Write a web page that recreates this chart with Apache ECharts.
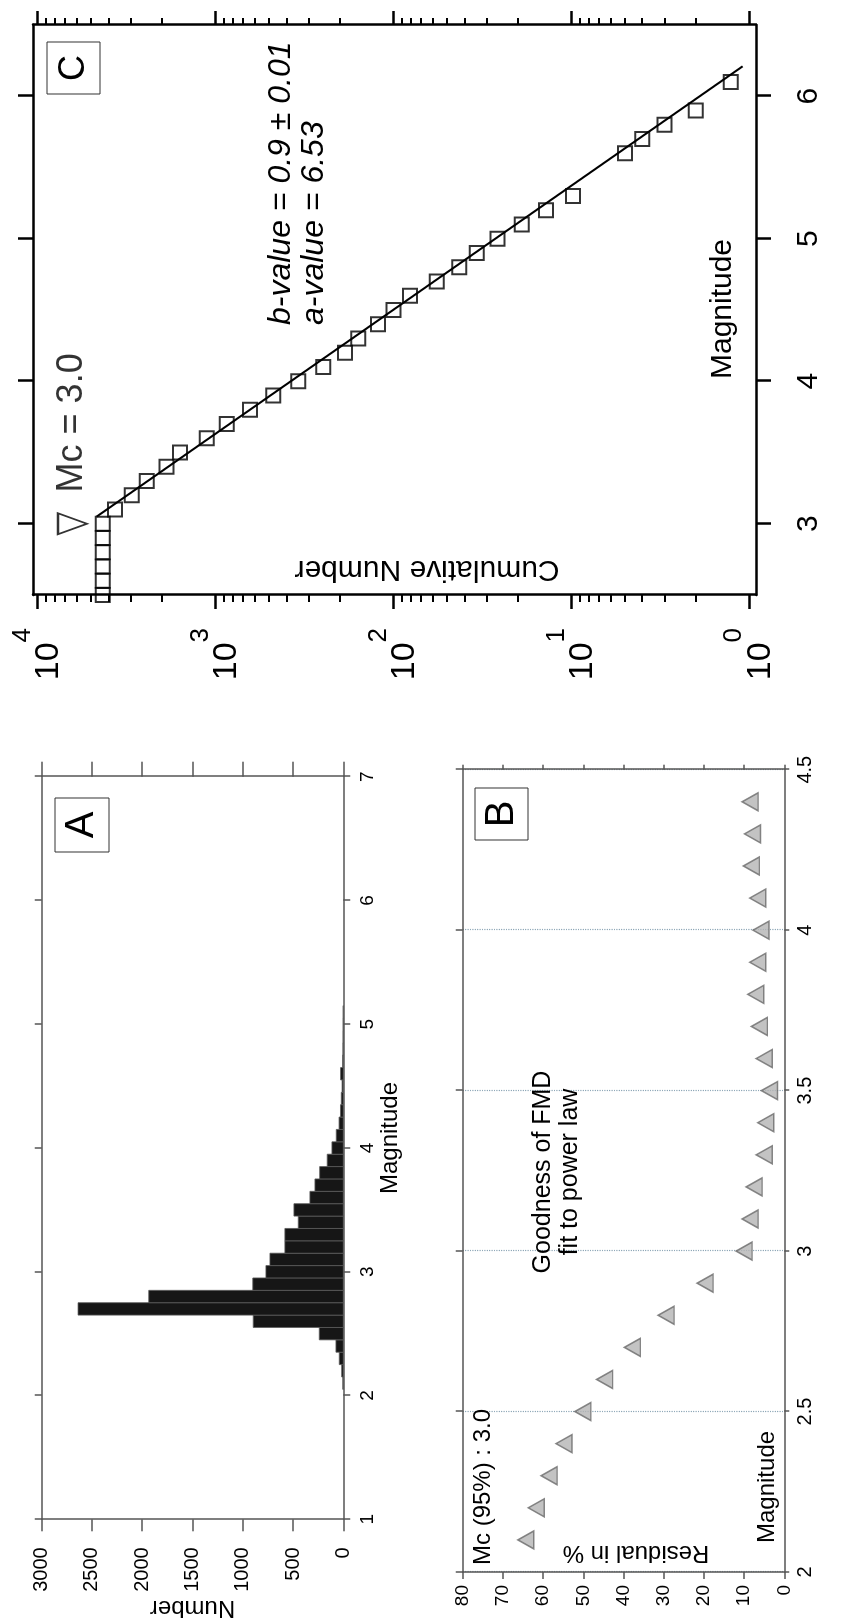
<!DOCTYPE html>
<html>
<head>
<meta charset="utf-8">
<script src="https://cdn.jsdelivr.net/npm/echarts@6/dist/echarts.min.js"></script>
<style>
html,body{margin:0;padding:0;background:#fff;overflow:hidden;width:842px;height:1622px;}
#chart{position:absolute;left:0;top:0;width:1622px;height:842px;transform-origin:0 0;transform:translateY(1622px) rotate(-90deg);background:#fff;}
</style>
</head>
<body>
<div id="chart"></div>
<script>
// ---------- Panel A: frequency-magnitude histogram ----------
const histMagnitude = [2.1,2.2,2.3,2.4,2.5,2.6,2.7,2.8,2.9,3.0,3.1,3.2,3.3,3.4,3.5,3.6,3.7,3.8,3.9,4.0,4.1,4.2,4.3,4.4,4.5,4.6,4.7,4.8,4.9,5.0,5.1];
const histCount     = [5,16,40,73,239,896,2638,1935,900,770,730,581,581,448,491,332,282,235,160,113,70,42,28,20,12,27,7,4,3,2,1];
const histBinWidth  = 0.1;

// ---------- Panel B: goodness of fit residuals ----------
const residMagnitude = [2.1,2.2,2.3,2.4,2.5,2.6,2.7,2.8,2.9,3.0,3.1,3.2,3.3,3.4,3.5,3.6,3.7,3.8,3.9,4.0,4.1,4.2,4.3,4.4];
const residPercent   = [64.3,61.7,58.5,54.8,50.1,44.7,37.8,29.4,19.7,10.0,8.5,7.5,5.0,4.6,3.7,5.0,6.2,7.1,6.6,5.8,6.6,8.2,7.9,8.5];

// ---------- Panel C: cumulative FMD ----------
const cumMagnitude = [2.5,2.6,2.7,2.8,2.9,3.0,3.1,3.2,3.3,3.4,3.5,3.6,3.7,3.8,3.9,4.0,4.1,4.2,4.3,4.4,4.5,4.6,4.7,4.8,4.9,5.0,5.1,5.2,5.3,5.6,5.7,5.8,5.9,6.1];
const cumNumber    = [4300,4300,4300,4300,4300,4300,3676,2962,2440,1884,1586,1122,866,641,474,343,248,187,158,122,100,80.8,57.2,42.7,34.0,26.0,19.0,13.9,9.8,5.0,4.0,3.0,2.0,1.27];
const fitMagnitude = [3.05, 6.21];
const fitNumber    = [4660, 1.09];
const mcMagnitude  = 3.0;
const mcMarkerNumber = 6370;
const cMagTicks  = [3,4,5,6];
const cLogMajor  = [1,10,100,1000,10000];
const cLogMinor  = [2,3,4,5,6,7,8,9,20,30,40,50,60,70,80,90,200,300,400,500,600,700,800,900,2000,3000,4000,5000,6000,7000,8000,9000];

const FONT = "'Liberation Sans', Arial, Helvetica, sans-serif";
const GRAY = '#555';
const BLACK = '#000';

function lineStyle(c, w){ return {color:c, width:w}; }
function plain(v){ return String(v); }

const chart = echarts.init(document.getElementById('chart'), null, {renderer:'canvas'});

const option = {
  animation:false,
  backgroundColor:'#fff',
  textStyle:{fontFamily:FONT},
  grid:[
    {left:102.7, right:776.7, top:41.7, bottom:498.7, outerBoundsMode:'none'},
    {left:50, right:769.7, top:462.7, bottom:57.7, outerBoundsMode:'none'},
    {left:1027, right:25, top:33, bottom:86, outerBoundsMode:'none'}
  ],
  xAxis:[
    // A bottom
    {type:'value', gridIndex:0, position:'bottom', min:1, max:7, interval:1,
     axisLine:{onZero:false, lineStyle:lineStyle(GRAY,1.5)},
     axisTick:{length:7, lineStyle:lineStyle(GRAY,1.5)},
     axisLabel:{fontSize:19, color:BLACK, margin:15, fontFamily:FONT, formatter:plain},
     splitLine:{show:false},
     name:'Magnitude', nameLocation:'middle', nameGap:34,
     nameTextStyle:{fontSize:24, color:BLACK, fontFamily:FONT, padding:[0,0,0,20]}},
    // A top mirror
    {type:'value', gridIndex:0, position:'top', min:1, max:7, interval:1,
     axisLine:{onZero:false, lineStyle:lineStyle(GRAY,1.5)},
     axisTick:{length:7, lineStyle:lineStyle(GRAY,1.5)},
     axisLabel:{show:false}, splitLine:{show:false}},
    // B bottom
    {type:'value', gridIndex:1, position:'bottom', min:2, max:4.5, interval:0.5,
     axisLine:{onZero:false, lineStyle:lineStyle(GRAY,1.5)},
     axisTick:{length:5, lineStyle:lineStyle(GRAY,1.5)},
     axisLabel:{fontSize:20, color:BLACK, margin:11, fontFamily:FONT, formatter:plain},
     splitLine:{show:true, lineStyle:{type:'dotted', color:'#8fa8b8', width:1.2}}},
    // B top mirror
    {type:'value', gridIndex:1, position:'top', min:2, max:4.5, interval:0.5,
     axisLine:{onZero:false, lineStyle:lineStyle(GRAY,1.5)},
     axisTick:{length:7, lineStyle:lineStyle(GRAY,1.5)},
     axisLabel:{show:false}, splitLine:{show:false}},
    // C bottom
    {type:'value', gridIndex:2, position:'bottom', min:2.5, max:6.5,
     axisLine:{onZero:false, lineStyle:lineStyle(BLACK,2.5)},
     axisTick:{length:15, customValues:cMagTicks, lineStyle:lineStyle(BLACK,2.5)},
     axisLabel:{fontSize:30, color:BLACK, margin:38, fontFamily:FONT, customValues:cMagTicks, formatter:plain},
     splitLine:{show:false}},
    // C top mirror
    {type:'value', gridIndex:2, position:'top', min:2.5, max:6.5,
     axisLine:{onZero:false, lineStyle:lineStyle(BLACK,2.5)},
     axisTick:{length:15, customValues:cMagTicks, lineStyle:lineStyle(BLACK,2.5)},
     axisLabel:{show:false}, splitLine:{show:false}}
  ],
  yAxis:[
    // A left
    {type:'value', gridIndex:0, position:'left', min:0, max:3000, interval:500,
     axisLine:{show:true, onZero:false, lineStyle:lineStyle(GRAY,1.5)},
     axisTick:{show:true, length:12, lineStyle:lineStyle(GRAY,1.5)},
     axisLabel:{fontSize:20, color:BLACK, margin:28, fontFamily:FONT, formatter:plain},
     splitLine:{show:false},
     name:'Number', nameLocation:'middle', nameGap:63, nameRotate:90,
     nameTextStyle:{fontSize:24, color:BLACK, fontFamily:FONT}},
    // A right mirror
    {type:'value', gridIndex:0, position:'right', min:0, max:3000, interval:500,
     axisLine:{show:true, onZero:false, lineStyle:lineStyle(GRAY,1.5)},
     axisTick:{show:true, length:15, lineStyle:lineStyle(GRAY,1.5)},
     axisLabel:{show:false}, splitLine:{show:false}},
    // B left
    {type:'value', gridIndex:1, position:'left', min:0, max:80, interval:10,
     axisLine:{show:true, onZero:false, lineStyle:lineStyle(GRAY,1.5)},
     axisTick:{show:true, length:7, lineStyle:lineStyle(GRAY,1.5)},
     axisLabel:{fontSize:19, color:BLACK, margin:13, fontFamily:FONT, formatter:plain},
     splitLine:{show:false}},
    // B right mirror
    {type:'value', gridIndex:1, position:'right', min:0, max:80, interval:10,
     axisLine:{show:true, onZero:false, lineStyle:lineStyle(GRAY,1.5)},
     axisTick:{show:true, length:5, lineStyle:lineStyle(GRAY,1.5)},
     axisLabel:{show:false}, splitLine:{show:false}},
    // C left major (log)
    {type:'log', logBase:10, gridIndex:2, position:'left', min:0.917, max:10620,
     axisLine:{show:true, onZero:false, lineStyle:lineStyle(BLACK,2.5)},
     axisTick:{show:true, length:14, customValues:cLogMajor, lineStyle:lineStyle(BLACK,2.5)},
     axisLabel:{margin:33, customValues:cLogMajor,
       formatter:function(v){ return '{b|10}{s|' + Math.round(Math.log10(v)) + '}'; },
       rich:{
         b:{fontSize:34, fontFamily:FONT, color:BLACK, lineHeight:56, verticalAlign:'bottom'},
         s:{fontSize:26, fontFamily:FONT, color:BLACK, lineHeight:20, verticalAlign:'top'}
       }},
     splitLine:{show:false}},
    // C left minor
    {type:'log', logBase:10, gridIndex:2, position:'left', min:0.917, max:10620,
     axisLine:{show:false, onZero:false},
     axisTick:{show:true, length:7, customValues:cLogMinor, lineStyle:lineStyle(BLACK,2)},
     axisLabel:{show:false}, splitLine:{show:false}},
    // C right major
    {type:'log', logBase:10, gridIndex:2, position:'right', min:0.917, max:10620,
     axisLine:{show:true, onZero:false, lineStyle:lineStyle(BLACK,2.5)},
     axisTick:{show:true, length:14, customValues:cLogMajor, lineStyle:lineStyle(BLACK,2.5)},
     axisLabel:{show:false}, splitLine:{show:false}},
    // C right minor
    {type:'log', logBase:10, gridIndex:2, position:'right', min:0.917, max:10620,
     axisLine:{show:false, onZero:false},
     axisTick:{show:true, length:7, customValues:cLogMinor, lineStyle:lineStyle(BLACK,2)},
     axisLabel:{show:false}, splitLine:{show:false}}
  ],
  series:[
    {type:'custom', name:'Histogram', xAxisIndex:0, yAxisIndex:0,
     data: histMagnitude.map(function(m,i){ return [m, histCount[i]]; }),
     encode:{x:0, y:1},
     renderItem:function(params, api){
       const m = api.value(0), n = api.value(1);
       const p0 = api.coord([m - histBinWidth/2, n]);
       const p1 = api.coord([m + histBinWidth/2, 0]);
       return {type:'rect',
         shape:{x:p0[0], y:p0[1], width:p1[0]-p0[0], height:p1[1]-p0[1]},
         style:{fill:'#161616', stroke:'#5a5a5a', lineWidth:0.8}};
     }},
    {type:'scatter', name:'Residual', xAxisIndex:2, yAxisIndex:2,
     data: residMagnitude.map(function(m,i){ return [m, residPercent[i]]; }),
     symbol:'triangle', symbolSize:[18,16],
     itemStyle:{color:'#b4b4b4', borderColor:'#6a6a6a', borderWidth:1.5}},
    {type:'line', name:'Fit', xAxisIndex:4, yAxisIndex:4,
     data: fitMagnitude.map(function(m,i){ return [m, fitNumber[i]]; }),
     symbol:'none', lineStyle:{color:BLACK, width:2}, clip:false},
    {type:'scatter', name:'Cumulative', xAxisIndex:4, yAxisIndex:4,
     data: cumMagnitude.map(function(m,i){ return [m, cumNumber[i]]; }),
     symbol:'rect', symbolSize:14, clip:false,
     itemStyle:{color:'rgba(255,255,255,0)', borderColor:BLACK, borderWidth:2}},
    {type:'scatter', name:'Mc', xAxisIndex:4, yAxisIndex:4,
     data:[[mcMagnitude, mcMarkerNumber]],
     symbol:'triangle', symbolRotate:180, symbolSize:[21,29], clip:false,
     itemStyle:{color:'rgba(255,255,255,0)', borderColor:BLACK, borderWidth:2},
     label:{show:true, position:'right', distance:20, formatter:'Mc = 3.0',
            fontSize:36, color:BLACK, fontFamily:FONT}}
  ],
  graphic:[
    // Panel labels
    {type:'rect', shape:{x:770, y:55, width:54, height:54}, style:{fill:'#fff', stroke:'#333', lineWidth:1}, z:10},
    {type:'text', x:797, y:82, z:11, style:{text:'A', fontSize:40, fontFamily:FONT, fill:BLACK, align:'center', verticalAlign:'middle'}},
    {type:'rect', shape:{x:782, y:475, width:52, height:53}, style:{fill:'#fff', stroke:'#333', lineWidth:1}, z:10},
    {type:'text', x:808, y:502, z:11, style:{text:'B', fontSize:40, fontFamily:FONT, fill:BLACK, align:'center', verticalAlign:'middle'}},
    {type:'rect', shape:{x:1528, y:47, width:52, height:53}, style:{fill:'#fff', stroke:'#333', lineWidth:1}, z:10},
    {type:'text', x:1554, y:74, z:11, style:{text:'C', fontSize:36, fontFamily:FONT, fill:BLACK, align:'center', verticalAlign:'middle'}},
    // Panel B annotations
    {type:'text', x:57, y:483, z:11, style:{text:'Mc (95%) : 3.0', fontSize:24, fontFamily:FONT, fill:BLACK, align:'left', verticalAlign:'middle'}},
    {type:'text', x:450, y:557, z:11, style:{text:'Goodness of FMD\nfit to power law', fontSize:25, lineHeight:27, fontFamily:FONT, fill:BLACK, align:'center', verticalAlign:'middle'}},
    {type:'text', x:69.5, y:636, rotation:Math.PI/2, z:11, style:{text:'Residual in %', fontSize:24, fontFamily:FONT, fill:BLACK, align:'center', verticalAlign:'middle'}},
    {type:'text', x:79, y:767, z:11, style:{text:'Magnitude', fontSize:24, fontFamily:FONT, fill:BLACK, align:'left', verticalAlign:'middle'}},
    // Panel C annotations
    {type:'text', x:1297, y:281, z:11, style:{text:'b-value = 0.9 \u00b1 0.01', fontSize:32, fontStyle:'italic', fontFamily:FONT, fill:BLACK, align:'left', verticalAlign:'middle'}},
    {type:'text', x:1297, y:314, z:11, style:{text:'a-value = 6.53', fontSize:32, fontStyle:'italic', fontFamily:FONT, fill:BLACK, align:'left', verticalAlign:'middle'}},
    {type:'text', x:1313, y:723, z:11, style:{text:'Magnitude', fontSize:30, fontFamily:FONT, fill:BLACK, align:'center', verticalAlign:'middle'}},
    {type:'text', x:1053, y:427, rotation:Math.PI/2, z:11, style:{text:'Cumulative Number', fontSize:30, fontFamily:FONT, fill:BLACK, align:'center', verticalAlign:'middle'}}
  ]
};
chart.setOption(option);
</script>
</body>
</html>
